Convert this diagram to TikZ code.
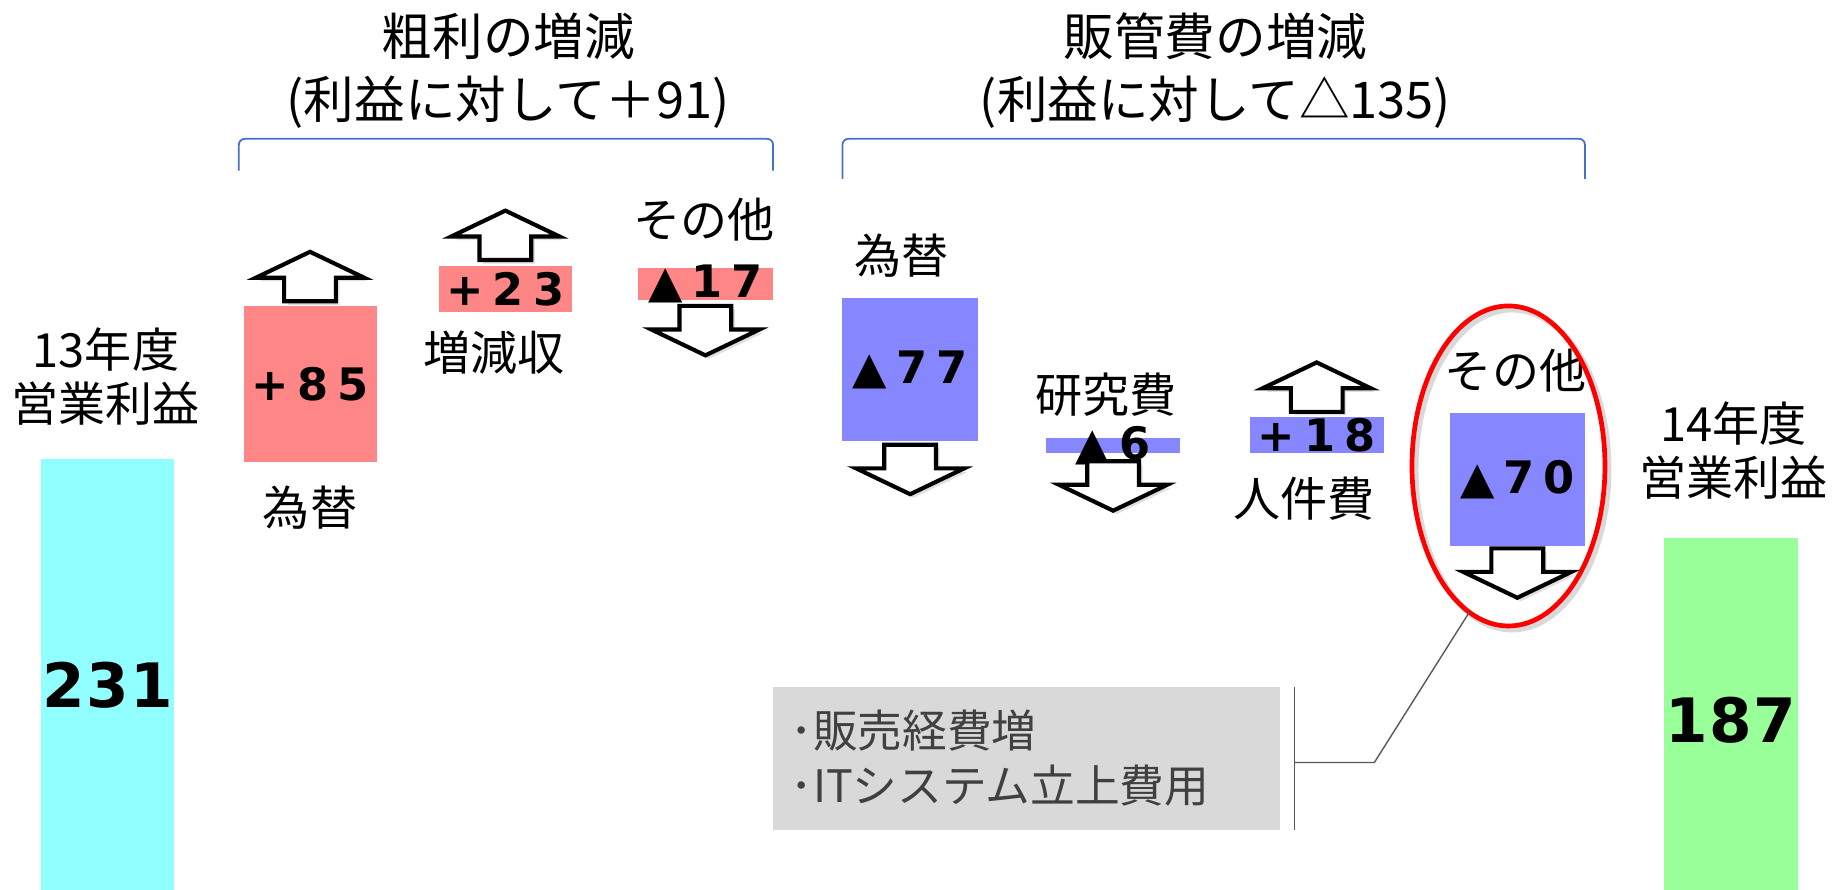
\documentclass[tikz,border=0pt]{standalone}
\usepackage{fontspec}
\setmainfont{Noto Sans CJK JP}
\newfontfamily\numfont[LetterSpace=20]{DejaVu Sans}
\newfontfamily\bignumfont[LetterSpace=2]{DejaVu Sans}
\usetikzlibrary{positioning,shapes,shadows}

\definecolor{gainred}{RGB}{255,134,134}
\definecolor{lossblue}{RGB}{134,134,255}
\definecolor{startcyan}{RGB}{145,255,255}
\definecolor{endgreen}{RGB}{153,255,153}
\definecolor{notegray}{RGB}{217,217,217}
\definecolor{notetext}{RGB}{64,64,64}
\definecolor{bracketblue}{RGB}{68,114,196}

\begin{document}
\begin{tikzpicture}[x=1pt,y=1pt]
    \tikzstyle{every node}=[inner sep=0,outer sep=0]
    \tikzstyle{valbox}=[rectangle,draw=none,minimum width=114]
    \tikzstyle{gain}=[valbox,fill=gainred]
    \tikzstyle{loss}=[valbox,fill=lossblue]
    \tikzstyle{num}=[font=\numfont\bfseries\fontsize{38}{38}\selectfont]
    \tikzstyle{bignum}=[font=\bignumfont\bfseries\fontsize{52}{52}\selectfont]
    \tikzstyle{lbl}=[font=\fontsize{40}{46}\selectfont,align=center]
    \tikzstyle{head}=[font=\fontsize{43}{54}\selectfont,align=center]
    \tikzstyle{brace}=[draw=bracketblue,line width=1.5,rounded corners=5]
    \tikzstyle{callout}=[draw=black!65,line width=1.2]
    \tikzstyle{blockarrow}=[draw=black,fill=white,line width=3.5,line join=miter,
        drop shadow={opacity=.25,shadow xshift=3pt,shadow yshift=-3pt}]
    \tikzset{
        up arrow/.pic={\draw[blockarrow] (-22,0) -- (-22,20) -- (-46,20) -- (0,42) -- (46,20) -- (22,20) -- (22,0) -- cycle;},
        down arrow/.pic={\draw[blockarrow] (-22,0) -- (-22,-20) -- (-46,-20) -- (0,-42) -- (46,-20) -- (22,-20) -- (22,0) -- cycle;}
    }
    \useasboundingbox (0,0) rectangle (1568,-756);
    {
        % titles and brackets
        \node[head] (gptitle) at (432,-60) {粗利の増減\\(利益に対して＋91)};
        \node[head] (sgtitle) at (1033,-60) {販管費の増減\\(利益に対して△135)};
        \draw[brace] (203,-145) -- (203,-118) -- (657,-118) -- (657,-145);
        \draw[brace] (716,-152) -- (716,-118) -- (1347,-118) -- (1347,-152);

        % start and end bars
        \node[lbl] (startlbl) at (90,-320) {13年度\\営業利益};
        \node[valbox,fill=startcyan,minimum width=113,minimum height=384,bignum] (start) at (91.5,-582) {231};
        \node[lbl] (endlbl) at (1473,-383) {14年度\\営業利益};
        \node[valbox,fill=endgreen,minimum height=310,bignum] (end) at (1471,-612) {187};

        % gross profit
        \node[gain,minimum width=113,minimum height=133,label={[num]center:+85}] (fx1) at (263.5,-326.5) {};
        \node[gain,minimum width=113,minimum height=39,label={[num]center:+23}] (vol) at (429.5,-245.5) {};
        \node[gain,minimum width=115,minimum height=27,label={[num]center:▲17}] (oth1) at (599.5,-241.5) {};
        \node[lbl,below=20 of fx1] (fx1lbl) {為替};
        \node[lbl] (vollbl) at (420,-300) {増減収};
        \node[lbl] (oth1lbl) at (598,-187) {その他};

        % SG&A
        \node[loss,minimum width=115,minimum height=122,label={[num]center:▲77}] (fx2) at (773.5,-314) {};
        \node[loss,minimum height=13,label={[num]center:▲6}] (rd) at (946,-378.5) {};
        \node[loss,minimum height=31,label={[num]center:+18}] (hr) at (1119,-369.5) {};
        \node[loss,minimum width=115,minimum height=113,label={[num]center:▲70}] (oth2) at (1289.5,-407.5) {};
        \node[lbl] (fx2lbl) at (766,-217) {為替};
        \node[lbl] (rdlbl) at (940,-335) {研究費};
        \node[lbl] (hrlbl) at (1108,-424) {人件費};
        \node[lbl] (oth2lbl) at (1288,-315) {その他};
        \node[ellipse,draw=red,line width=4,minimum width=164,minimum height=272,
              preaction={draw=black!15,line width=5,transform canvas={xshift=3pt,yshift=-3pt}}] (others) at (1282,-396) {};

        % arrows
        \pic at ([yshift=4]fx1.north) {up arrow};
        \pic at ([yshift=5]vol.north) {up arrow};
        \pic at ([yshift=-5]oth1.south) {down arrow};
        \pic at ([yshift=-3]fx2.south) {down arrow};
        \pic at ([yshift=-7]rd.south) {down arrow};
        \pic at ([yshift=4]hr.north) {up arrow};
        \pic at ([yshift=-2]oth2.south) {down arrow};

        % note
        \node[fill=notegray,minimum width=431,minimum height=121,text width=401,align=left,
              font=\fontsize{38}{47}\selectfont,text=notetext] (note) at (872.5,-644.5)
              {･販売経費増\\･ITシステム立上費用};
        \coordinate (notetie) at ([xshift=12,yshift=-3.5]note.east);
        \draw[callout] ([xshift=12]note.north east) -- ([xshift=12]note.south east);
        \draw[callout] (notetie) -- +(68,0) -- (others.255);
    }
\end{tikzpicture}
\end{document}
